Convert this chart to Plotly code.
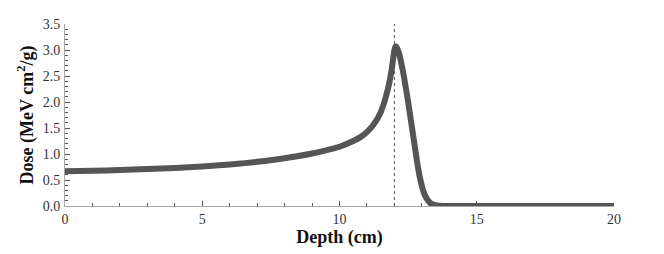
import plotly.graph_objects as go

depth = [0, 1, 2, 3, 4, 5, 6, 7, 8, 8.5, 9, 9.5, 10, 10.5, 10.75, 11, 11.25, 11.5,
         11.75, 11.9, 12.0, 12.05, 12.15, 12.3, 12.5, 12.7, 12.9, 13.1, 13.3, 13.5,
         13.8, 14, 15, 16, 17, 18, 19, 20]
dose = [0.67, 0.68, 0.69, 0.71, 0.73, 0.76, 0.80, 0.85, 0.92, 0.96, 1.01, 1.07, 1.14,
        1.25, 1.32, 1.42, 1.57, 1.80, 2.22, 2.62, 3.00, 3.07, 2.97, 2.62, 2.00, 1.30,
        0.62, 0.22, 0.06, 0.015, 0.0, 0.0, 0.0, 0.0, 0.0, 0.0, 0.0, 0.0]

peak_depth = 12.0
x_ticks = [0, 5, 10, 15, 20]
y_ticks = [0.0, 0.5, 1.0, 1.5, 2.0, 2.5, 3.0, 3.5]

font_family = "Liberation Serif, Times New Roman, serif"

fig = go.Figure()
fig.add_trace(go.Scatter(
    x=depth, y=dose, mode="lines",
    line=dict(color="#555555", width=6, shape="spline", smoothing=0.6),
    cliponaxis=False, hoverinfo="skip", showlegend=False,
))

fig.add_shape(type="line", x0=peak_depth, x1=peak_depth, y0=0, y1=3.58,
              xref="x", yref="y", line=dict(color="#555555", width=1, dash="3px,3px"),
              layer="below")

axis_common = dict(
    showgrid=False, zeroline=False, showline=True, linecolor="#a8a8a8", linewidth=1,
    ticks="inside", tickcolor="#555555", ticklen=5, tickwidth=1, automargin=False,
    tickfont=dict(family=font_family, size=14, color="#333333"),
)

fig.update_layout(
    width=664, height=254,
    margin=dict(l=57, r=58, t=16, b=56),
    paper_bgcolor="white", plot_bgcolor="white",
    xaxis=dict(range=[0, 20], tickvals=x_ticks, ticktext=[str(v) for v in x_ticks],
               minor=dict(dtick=1, ticks="inside", ticklen=3, tickcolor="#555555"),
               title=dict(text="<b>Depth (cm)</b>", standoff=2,
                          font=dict(family=font_family, size=18, color="#111111")),
               **axis_common),
    yaxis=dict(range=[0, 3.5], tickvals=y_ticks, ticktext=[f"{v:.1f}" for v in y_ticks],
               minor=dict(dtick=0.1, ticks="inside", ticklen=3, tickcolor="#555555"),
               title=dict(text="<b>Dose (MeV cm<sup>2</sup>/g)</b>", standoff=4,
                          font=dict(family=font_family, size=18, color="#111111")),
               ticklabelstandoff=1,
               **axis_common),
)

fig.write_html("out.html")
